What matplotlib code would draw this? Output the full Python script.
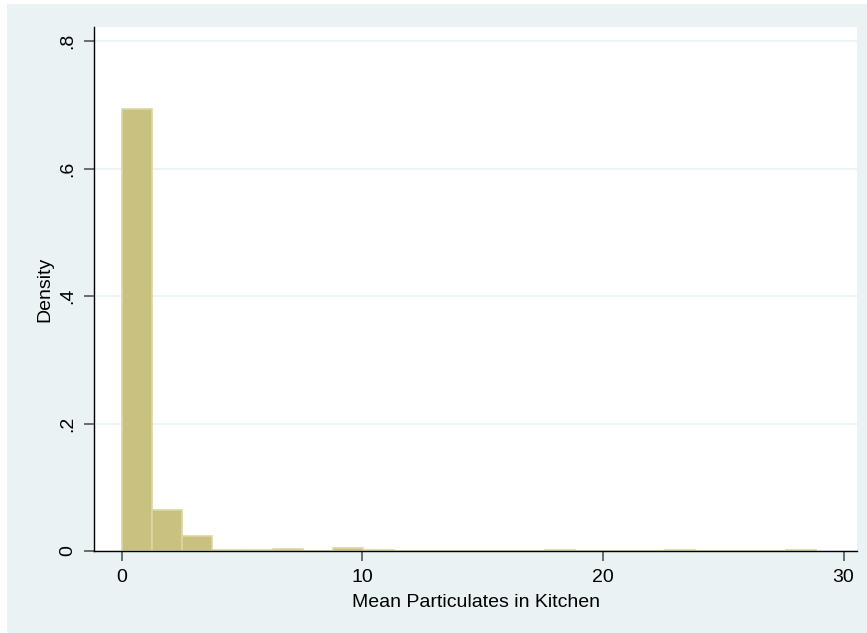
import numpy as np
import matplotlib.pyplot as plt
from matplotlib.patches import Rectangle

plt.rcParams["font.family"] = ["Liberation Sans", "DejaVu Sans"]

# Histogram of mean kitchen particulates (density scale)
bin_start = 0.0
bin_width = 1.255
densities = [0.694, 0.064, 0.024, 0.002, 0.002, 0.003, 0.0, 0.005, 0.002,
             0.0, 0.0, 0.0, 0.0, 0.0, 0.002, 0.0, 0.0, 0.0, 0.002,
             0.0, 0.0, 0.0, 0.002]

x_ticks = [0, 10, 20, 30]
y_ticks = [0, 0.2, 0.4, 0.6, 0.8]
y_ticklabels = ["0", ".2", ".4", ".6", ".8"]

bg = "#eaf2f3"
bar_face = "#c9c17f"
bar_edge = "#dcd6a3"

fig = plt.figure(figsize=(8.67, 6.33), dpi=100)
fig.patch.set_facecolor("white")
# light outer panel
fig.add_artist(Rectangle((7 / 867, -0.01), 1.01 - 7 / 867, 1.01 - 4 / 633,
                         transform=fig.transFigure, facecolor=bg,
                         edgecolor="none", zorder=0))

ax = fig.add_axes([94 / 867, 1 - 551 / 633, (857 - 94) / 867, (551 - 27) / 633])
ax.set_facecolor("white")

edges = bin_start + bin_width * np.arange(len(densities))
ax.bar(edges, densities, width=bin_width, align="edge",
       color=bar_face, edgecolor=bar_edge, linewidth=1.2, zorder=2)

ax.set_xlim(-1.16, 30.56)
ax.set_ylim(0, 0.822)

ax.set_xticks(x_ticks)
ax.set_yticks(y_ticks)
ax.set_yticklabels(y_ticklabels, rotation=90, va="center")
ax.tick_params(axis="both", labelsize=14, length=7, width=1.2,
               color="#555555", direction="out", pad=6)

ax.grid(axis="y", color=bg, linewidth=1.2, zorder=0)
ax.set_axisbelow(True)

for side in ["top", "right"]:
    ax.spines[side].set_visible(False)
for side in ["left", "bottom"]:
    ax.spines[side].set_linewidth(1.0)
    ax.spines[side].set_color("black")

ax.set_xlabel("Mean Particulates in Kitchen", fontsize=14, labelpad=6)
ax.set_ylabel("Density", fontsize=14, labelpad=4)

fig.savefig("out.png", dpi=100)
